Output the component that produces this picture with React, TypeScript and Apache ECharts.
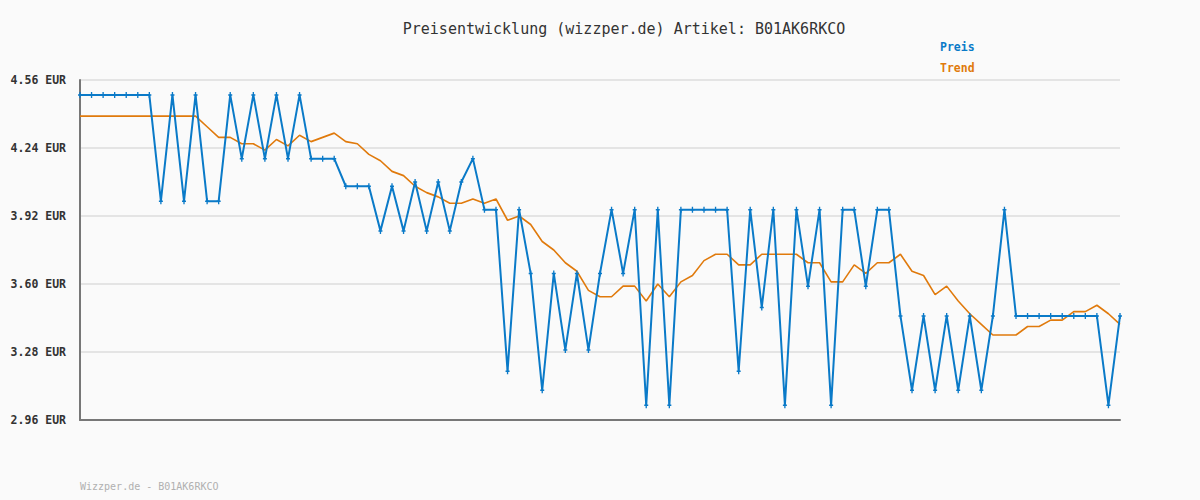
import React, { useEffect, useRef } from "react";
import * as echarts from "echarts";

const TITLE = "Preisentwicklung (wizzper.de) Artikel: B01AK6RKCO";
const FOOTER = "Wizzper.de - B01AK6RKCO";
const SERIES_NAMES = ["Preis", "Trend"];
const Y_MIN = 2.96;
const Y_MAX = 4.56;
const Y_STEP = 0.32;

const preis: number[] = [
  4.49, 4.49, 4.49, 4.49, 4.49, 4.49, 4.49, 3.99, 4.49, 3.99,
  4.49, 3.99, 3.99, 4.49, 4.19, 4.49, 4.19, 4.49, 4.19, 4.49,
  4.19, 4.19, 4.19, 4.06, 4.06, 4.06, 3.85, 4.06, 3.85, 4.08,
  3.85, 4.08, 3.85, 4.08, 4.19, 3.95, 3.95, 3.19, 3.95, 3.65,
  3.10, 3.65, 3.29, 3.65, 3.29, 3.65, 3.95, 3.65, 3.95, 3.03,
  3.95, 3.03, 3.95, 3.95, 3.95, 3.95, 3.95, 3.19, 3.95, 3.49,
  3.95, 3.03, 3.95, 3.59, 3.95, 3.03, 3.95, 3.95, 3.59, 3.95,
  3.95, 3.45, 3.10, 3.45, 3.10, 3.45, 3.10, 3.45, 3.10, 3.45,
  3.95, 3.45, 3.45, 3.45, 3.45, 3.45, 3.45, 3.45, 3.45, 3.03,
  3.45,
];

const trend: number[] = [
  4.39, 4.39, 4.39, 4.39, 4.39, 4.39, 4.39, 4.39, 4.39, 4.39,
  4.39, 4.34, 4.29, 4.29, 4.26, 4.26, 4.23, 4.28, 4.25, 4.30,
  4.27, 4.29, 4.31, 4.27, 4.26, 4.21, 4.18, 4.13, 4.11, 4.06,
  4.03, 4.01, 3.98, 3.98, 4.0, 3.98, 4.0, 3.9, 3.92, 3.88,
  3.8, 3.76, 3.7, 3.66, 3.57, 3.54, 3.54, 3.59, 3.59, 3.52,
  3.6, 3.54, 3.61, 3.64, 3.71, 3.74, 3.74, 3.69, 3.69, 3.74,
  3.74, 3.74, 3.74, 3.7, 3.7, 3.61, 3.61, 3.69, 3.65, 3.7,
  3.7, 3.74, 3.66, 3.64, 3.55, 3.59, 3.52, 3.46, 3.41, 3.36,
  3.36, 3.36, 3.4, 3.4, 3.43, 3.43, 3.47, 3.47, 3.5, 3.46,
  3.41,
];

const categories: string[] = preis.map((_, i) => String(i + 1));

const BLUE = "#0a7ac8";
const ORANGE = "#e07a0c";

export default function App() {
  const ref = useRef<HTMLDivElement>(null);
  useEffect(() => {
    if (!ref.current) return;
    const chart = echarts.init(ref.current, null, { renderer: "svg" });
    chart.setOption({
      animation: false,
      backgroundColor: "#fafafa",
      textStyle: { fontFamily: "DejaVu Sans Mono" },
      title: {
        text: TITLE,
        left: 619,
        textAlign: "center",
        top: 16,
        textStyle: {
          fontFamily: "DejaVu Sans Mono",
          fontSize: 15,
          fontWeight: "normal",
          color: "#333",
        },
      },
      legend: {
        orient: "vertical",
        left: 935,
        top: 35,
        itemGap: 8,
        itemWidth: 0,
        itemHeight: 14,
        icon: "none",
        selectedMode: false,
        data: [
          { name: SERIES_NAMES[0], textStyle: { color: BLUE } },
          { name: SERIES_NAMES[1], textStyle: { color: ORANGE } },
        ],
        textStyle: {
          fontFamily: "DejaVu Sans Mono",
          fontSize: 11.5,
          fontWeight: "bold",
          padding: [0, 0, 0, -5],
        },
      },
      graphic: [
        {
          type: "text",
          left: 80,
          top: 481,
          style: {
            text: FOOTER,
            fill: "#b0b0b0",
            font: "10px 'DejaVu Sans Mono'",
          },
        },
      ],
      grid: { left: 80, right: 80, top: 80, bottom: 80, containLabel: false },
      xAxis: {
        type: "category",
        data: categories,
        boundaryGap: false,
        axisLine: { show: true, lineStyle: { color: "#777", width: 2 } },
        axisTick: { show: false },
        axisLabel: { show: false },
        splitLine: { show: false },
      },
      yAxis: {
        type: "value",
        min: Y_MIN,
        max: Y_MAX,
        interval: Y_STEP,
        axisLine: { show: true, onZero: false, lineStyle: { color: "#777", width: 2 } },
        axisTick: { show: false },
        axisLabel: {
          margin: 14,
          formatter: (v: number) => v.toFixed(2) + " EUR",
          fontFamily: "DejaVu Sans Mono",
          fontSize: 11.5,
          fontWeight: "bold",
          color: "#333",
        },
        splitLine: { show: true, lineStyle: { color: "#e4e4e4", width: 2 } },
      },
      series: [
        {
          name: SERIES_NAMES[0],
          type: "line",
          data: preis,
          color: BLUE,
          lineStyle: { color: BLUE, width: 2 },
          symbol: "path://M-1,-4h2v8h-2z M-3,-1h6v2h-6z",
          symbolSize: [4, 6],
          itemStyle: { color: BLUE },
          z: 3,
        },
        {
          name: SERIES_NAMES[1],
          type: "line",
          data: trend,
          color: ORANGE,
          lineStyle: { color: ORANGE, width: 1.6 },
          showSymbol: false,
          symbol: "none",
          itemStyle: { color: ORANGE },
          z: 2,
        },
      ],
    });
    return () => chart.dispose();
  }, []);
  return (
    <div
      ref={ref}
      style={{ position: "fixed", left: 0, top: 0, width: 1200, height: 500 }}
    />
  );
}
